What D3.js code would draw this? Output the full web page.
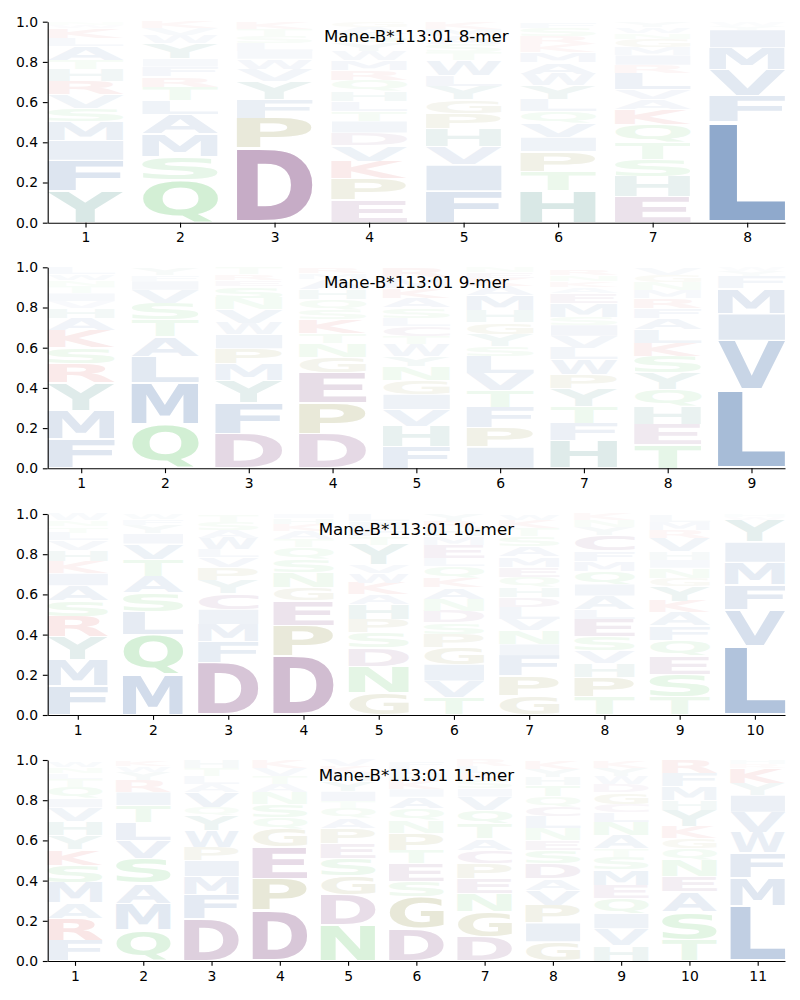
<!DOCTYPE html>
<html><head><meta charset="utf-8">
<script src="https://cdn.jsdelivr.net/npm/d3@7"></script>
<style>body{margin:0;background:#fff}</style>
</head><body>
<svg id="chart" width="800" height="1000"></svg>
<script>
// ---------- DATA (letters listed bottom -> top per position) ----------
const titles = ["Mane-B*113:01 8-mer", "Mane-B*113:01 9-mer", "Mane-B*113:01 10-mer", "Mane-B*113:01 11-mer"];
const yTicks = [0, 0.2, 0.4, 0.6, 0.8, 1.0];

const letters8 = ["YFIMSVRHTALKWN", "QSMALTRFIYWVK", "DPFYVWILSTK", "EPKVDITLHQRMWYSAG",
  "FIVHPGYLWTSAMK", "HTPIVQLYWAMKRSF", "EHSTQKAVLRIMGNWY", "LFVMIYW"];
const heights8 = [
  [.16,.15,.10,.094,.066,.066,.066,.06,.045,.07,.04,.05,.015,.015],
  [.215,.115,.11,.10,.07,.066,.05,.05,.04,.075,.04,.035,.035],
  [.37,.15,.095,.09,.06,.05,.04,.04,.035,.035,.035],
  [.112,.106,.088,.078,.063,.058,.05,.05,.05,.055,.05,.05,.045,.04,.04,.035,.03],
  [.157,.13,.09,.09,.078,.066,.066,.055,.075,.04,.04,.04,.035,.035],
  [.16,.095,.10,.07,.07,.058,.058,.07,.058,.058,.05,.04,.04,.04,.03],
  [.13,.10,.086,.083,.09,.075,.05,.05,.08,.04,.05,.04,.04,.03,.03,.026],
  [.50,.13,.13,.11,.09,.02,.02]
];

const letters9 = ["FMYRSKAHVITNWL", "QMLATSVIFY", "DFYMPIWVNSERT", "DPEGNTKSQHAMR",
  "FHVIGNYWTCLSAKMR", "IPFTVLSYGHMAKEN", "HFTYPWLVISMEAKNR", "TEHQYSKLAFRMNGV", "LVIMFYW"];
const heights9 = [
  [.144,.144,.137,.094,.08,.086,.063,.05,.033,.04,.033,.03,.03,.034],
  [.218,.207,.13,.10,.083,.083,.066,.045,.03,.036],
  [.172,.154,.11,.083,.076,.07,.058,.066,.058,.058,.03,.03,.034],
  [.169,.154,.152,.075,.07,.05,.07,.05,.05,.05,.05,.03,.03],
  [.11,.10,.083,.075,.07,.07,.05,.06,.04,.05,.04,.05,.05,.05,.05,.05],
  [.106,.096,.1,.083,.086,.088,.05,.058,.058,.058,.075,.05,.04,.03,.024],
  [.136,.086,.083,.09,.07,.075,.058,.06,.055,.04,.066,.05,.03,.03,.03,.03],
  [.12,.1,.088,.083,.083,.083,.066,.066,.058,.05,.05,.04,.04,.035,.035],
  [.39,.245,.135,.125,.06,.025,.02]
];

const letters10 = ["FMYRSAIKHVLTNW", "MQLSATVIYFW", "DFMICYPVLWAST", "DPEGNSQTAKHI",
  "GNDSPHAKWVYTFIL", "TVIGPSDNAKQLEMHRY", "GPFINVLDHQEMASTKW", "TPHVSELAIQMFCYNK",
  "TSEQFAKYGNIHVRML", "LVFMIYWH"];
const heights10 = [
  [.145,.128,.116,.1,.08,.075,.061,.06,.056,.046,.04,.03,.03,.031],
  [.2,.2,.113,.095,.083,.083,.078,.05,.04,.03,.026],
  [.26,.105,.086,.075,.078,.066,.063,.05,.04,.058,.04,.04,.036],
  [.294,.15,.125,.066,.075,.066,.058,.04,.04,.035,.03,.022],
  [.11,.133,.09,.075,.066,.075,.05,.058,.05,.04,.1,.04,.04,.035,.035],
  [.086,.083,.083,.083,.066,.058,.058,.058,.058,.05,.058,.04,.066,.04,.04,.035,.035],
  [.095,.1,.1,.058,.066,.058,.06,.05,.05,.05,.05,.05,.05,.05,.04,.04,.03],
  [.09,.096,.07,.063,.07,.088,.05,.066,.058,.066,.05,.05,.075,.04,.035,.033],
  [.09,.113,.091,.078,.071,.066,.058,.075,.04,.05,.04,.04,.066,.04,.04,.036],
  [.345,.18,.125,.11,.1,.11,.015,.015]
];

const letters11 = ["FRAMSKYHVIQTLNW", "QMASVLTIRYWK", "DFMIPWYQVALTH", "DPEGQSNATVK",
  "NDGSEPAQTIYHKV", "DGSETPNQAIKHLF", "DGNEPCATQVISKLR", "GIPVADSENLCQTHYK",
  "HVIQEMSTANLCGDWYK", "TSAENQGKYHMFR", "LMFWVIYKRH"];
const heights11 = [
  [.1,.111,.078,.1,.088,.078,.071,.071,.066,.045,.058,.04,.03,.03,.03],
  [.156,.13,.1,.125,.09,.09,.083,.066,.058,.04,.03,.03],
  [.21,.12,.09,.08,.066,.083,.075,.04,.075,.04,.04,.04,.038],
  [.25,.158,.158,.09,.058,.066,.058,.04,.04,.04,.038],
  [.178,.15,.095,.088,.075,.075,.05,.05,.033,.05,.05,.04,.035,.033],
  [.161,.158,.075,.091,.066,.086,.063,.058,.058,.04,.04,.035,.035,.03],
  [.12,.125,.091,.075,.075,.066,.058,.075,.066,.066,.04,.04,.035,.035,.033],
  [.095,.095,.088,.075,.058,.075,.066,.05,.058,.058,.05,.05,.058,.04,.04,.04],
  [.078,.083,.075,.075,.066,.078,.063,.04,.066,.066,.05,.04,.058,.04,.04,.04,.035],
  [.106,.138,.1,.075,.083,.058,.05,.058,.083,.05,.066,.066,.067],
  [.275,.14,.125,.1,.1,.085,.06,.075,.02,.02]
];

const panels = [
  {title: titles[0], letters: letters8, heights: heights8},
  {title: titles[1], letters: letters9, heights: heights9},
  {title: titles[2], letters: letters10, heights: heights10},
  {title: titles[3], letters: letters11, heights: heights11}
];

// ---------- STYLE ----------
const groupColor = {
  hyd: [30, 82, 153], acid: [100, 30, 100], polar: [50, 180, 60],
  pg: [110, 110, 10], basic: [200, 30, 30], arom: [20, 110, 100]
};
const letterGroup = {A:"hyd",F:"hyd",I:"hyd",L:"hyd",M:"hyd",V:"hyd",W:"hyd",
  D:"acid",E:"acid",C:"acid", N:"polar",Q:"polar",S:"polar",T:"polar",
  P:"pg",G:"pg", K:"basic",R:"basic", H:"arom",Y:"arom"};

function fillFor(ch, h) {
  const c = groupColor[letterGroup[ch]];
  const a = Math.max(0, Math.min(1, h));
  const m = c.map(v => Math.round(255 - a * (255 - v)));
  return `rgb(${m[0]},${m[1]},${m[2]})`;
}

const FONT = "'DejaVu Sans', sans-serif";
const GFS = 100;
const cvs = document.createElement("canvas");
const ctx = cvs.getContext("2d");
ctx.font = `bold ${GFS}px 'DejaVu Sans'`;
const bcache = {};
function glyphBounds(ch) {
  if (!bcache[ch]) {
    const m = ctx.measureText(ch);
    bcache[ch] = {l: -m.actualBoundingBoxLeft, r: m.actualBoundingBoxRight,
                  t: -m.actualBoundingBoxAscent, b: m.actualBoundingBoxDescent};
  }
  return bcache[ch];
}

const svg = d3.select("#chart");
const plotLeft = 47.7, plotRight = 785;
const panelTops = [21.7, 267.3, 514, 760];
const panelH = 201;
const letterW = 0.8, vpad = 0.06;
const PT = 100 / 72;

panels.forEach((p, pi) => {
  const n = p.letters.length;
  const top = panelTops[pi];
  const x = d3.scaleLinear().domain([0.6, n + 0.4]).range([plotLeft, plotRight]);
  const y = d3.scaleLinear().domain([0, 1]).range([top + panelH, top]);
  const g = svg.append("g");

  // letters
  const lg = g.append("g");
  p.letters.forEach((col, ci) => {
    const pos = ci + 1;
    let base = 0;
    const hs = p.heights[ci];
    col.split("").forEach((ch, li) => {
      const h = hs[li];
      const b = glyphBounds(ch);
      const xl = x(pos - letterW / 2), xr = x(pos + letterW / 2);
      const yt = y(base + h - h * vpad / 2), yb = y(base + h * vpad / 2);
      const sx = (xr - xl) / (b.r - b.l), sy = (yb - yt) / (b.b - b.t);
      lg.append("text")
        .attr("font-family", FONT).attr("font-weight", "bold")
        .attr("font-size", GFS)
        .attr("fill", fillFor(ch, h))
        .attr("transform", `translate(${xl},${yt}) scale(${sx},${sy}) translate(${-b.l},${-b.t})`)
        .text(ch);
      base += h;
    });
  });

  // axes
  const tl = 3.5 * PT;
  const ax = g.append("g").attr("transform", `translate(${plotLeft},0)`)
    .call(d3.axisLeft(y).tickValues(yTicks).tickFormat(d3.format(".1f"))
      .tickSize(tl).tickPadding(tl).tickSizeOuter(0));
  const bx = g.append("g").attr("transform", `translate(0,${top + panelH})`)
    .call(d3.axisBottom(x).tickValues(d3.range(1, n + 1)).tickFormat(d3.format("d"))
      .tickSize(tl).tickPadding(tl).tickSizeOuter(0));
  [ax, bx].forEach(a => {
    a.selectAll("text").attr("font-family", FONT).attr("font-size", 13.9).attr("fill", "#000");
    a.selectAll("line").attr("stroke", "#000").attr("stroke-width", 0.8 * PT);
    a.select(".domain").attr("stroke", "#000").attr("stroke-width", 0.8 * PT);
  });

  g.append("text")
    .attr("x", (plotLeft + plotRight) / 2).attr("y", top + 20.6)
    .attr("text-anchor", "middle")
    .attr("font-family", FONT).attr("font-size", 16.7).attr("fill", "#000")
    .text(p.title);
});
</script>
</body></html>
